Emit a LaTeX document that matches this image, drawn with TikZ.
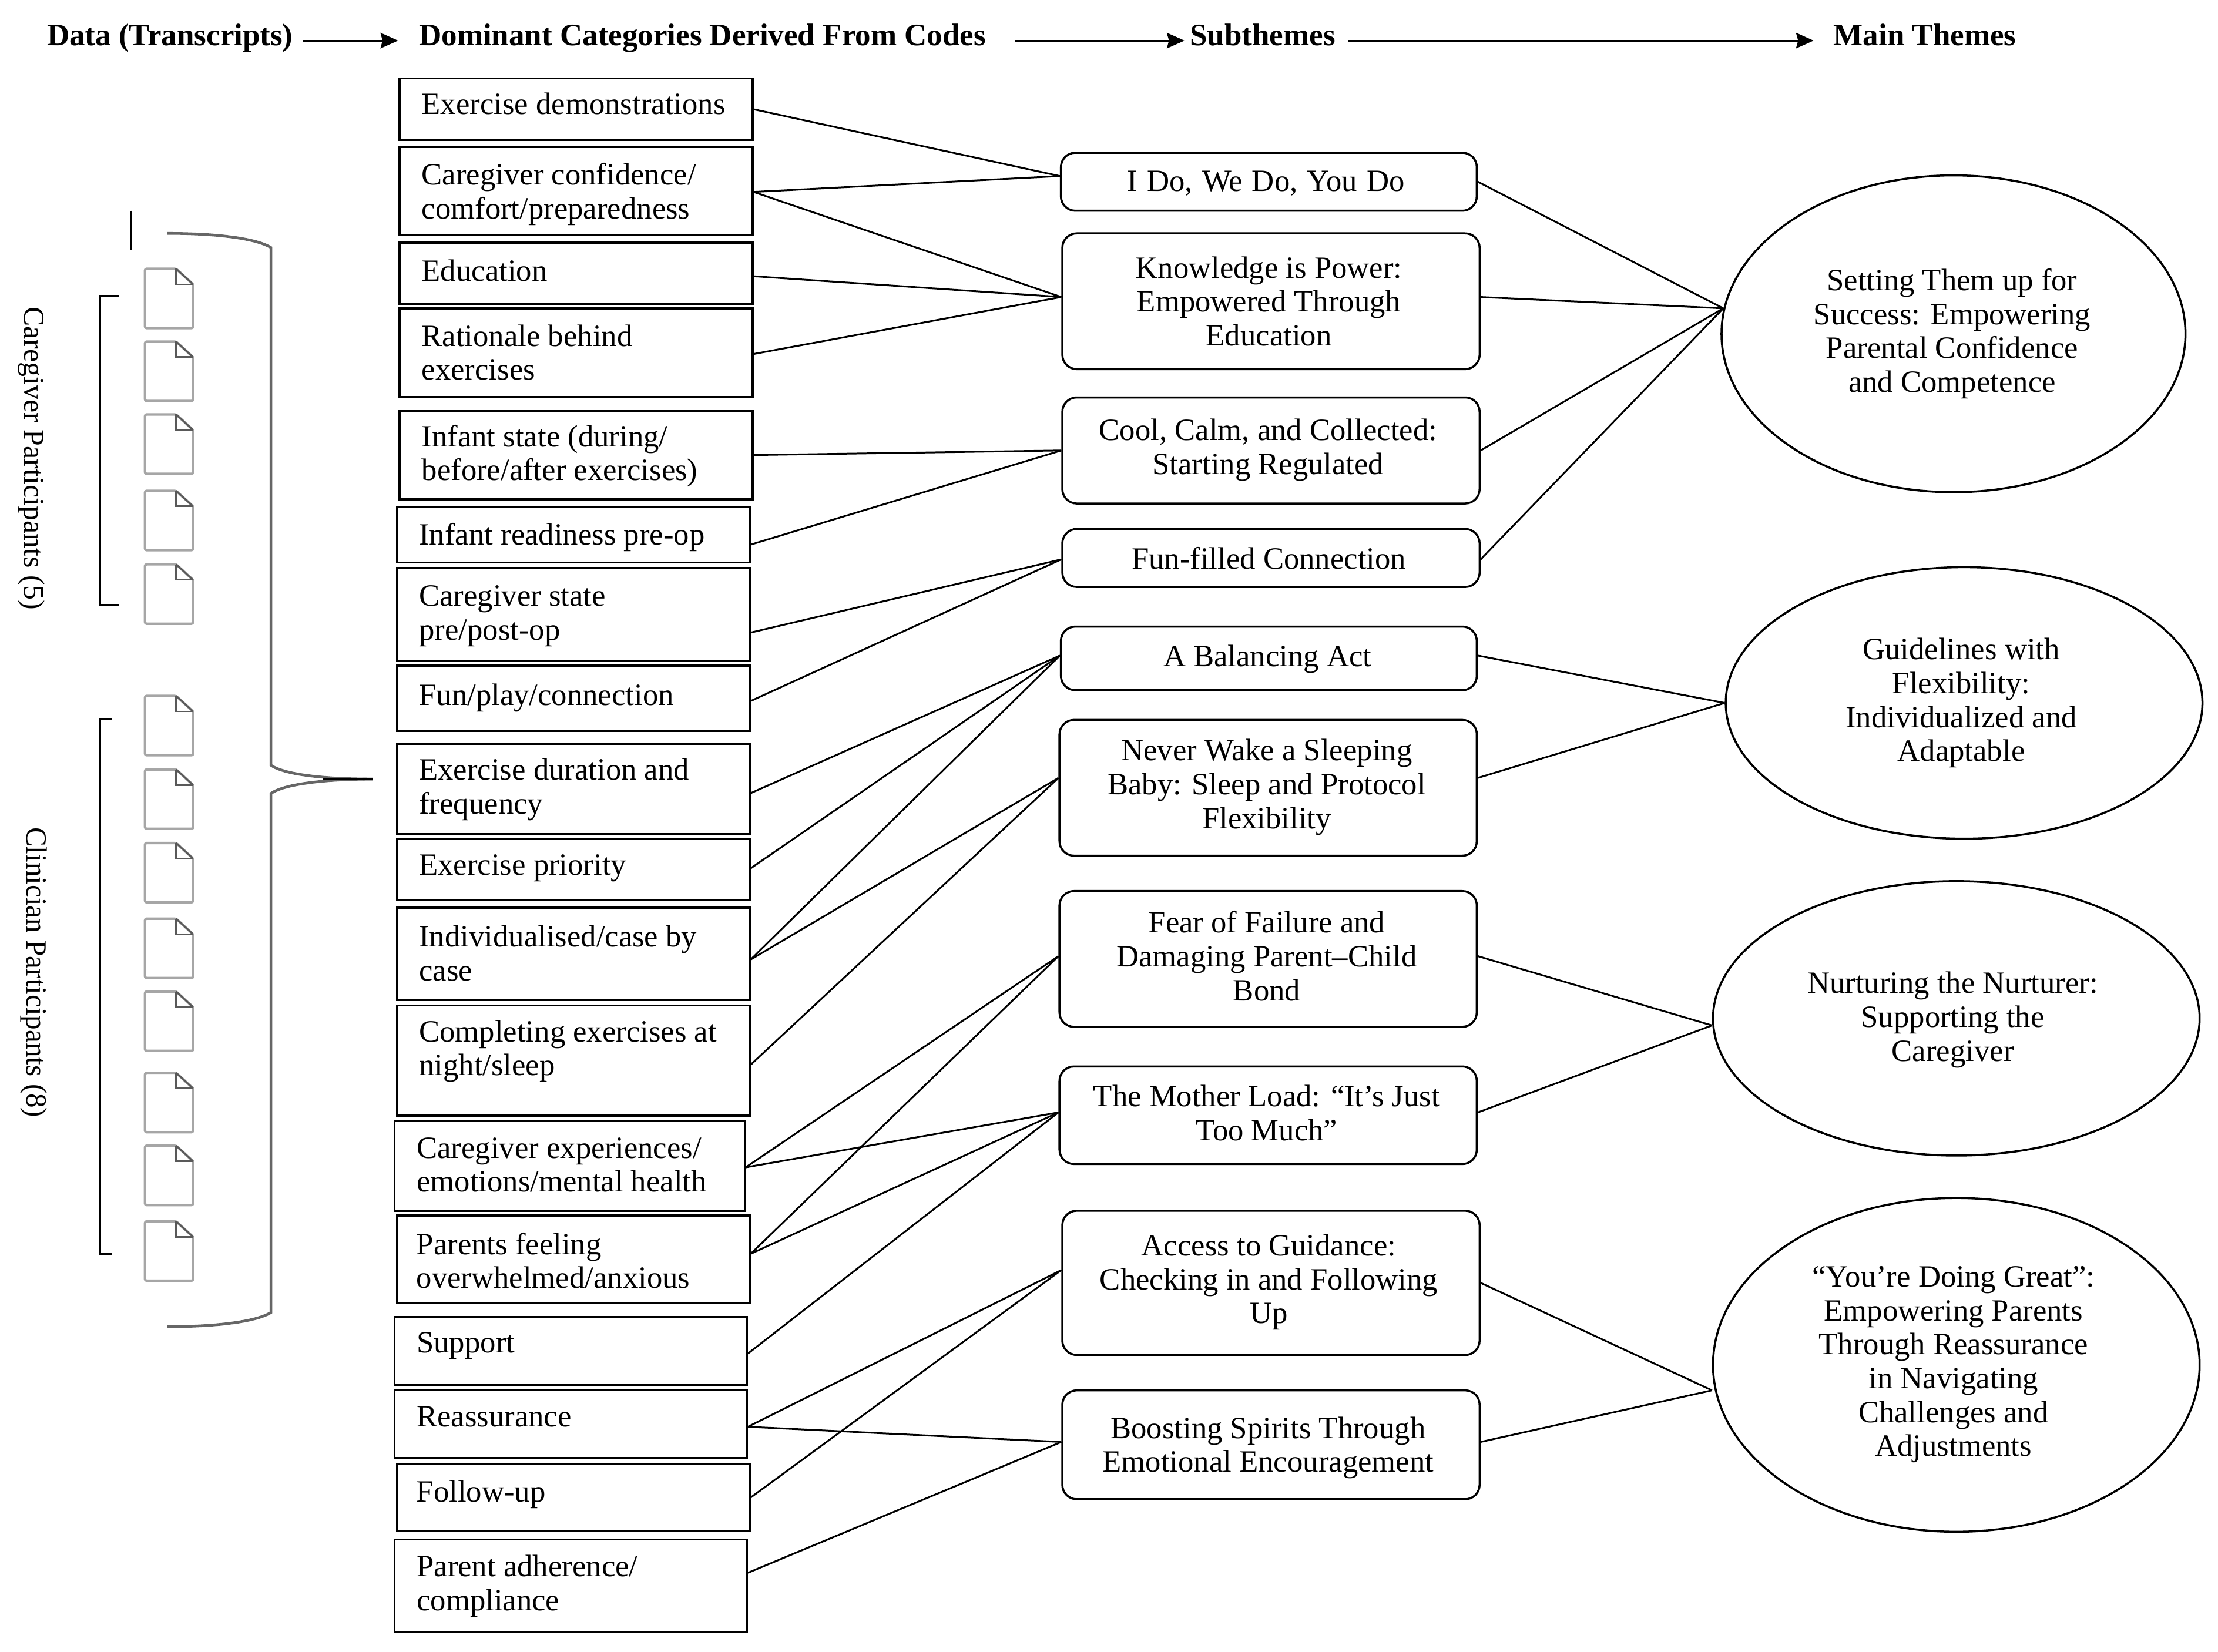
\documentclass[tikz,border=0pt]{standalone}
\usepackage{fontspec}
\setmainfont{Liberation Serif}
\usetikzlibrary{shapes.geometric,arrows.meta,calc}
\newcommand\catbox[7]{%
  \pgfmathsetlengthmacro\bw{(#4-#2)*0.024075cm}%
  \pgfmathsetlengthmacro\bh{(#5-#3)*0.024075cm}%
  \pgfmathsetlengthmacro\bt{(#6+0.8-#3)*0.024075cm-11pt}%
  \node[catnode,minimum width=\bw,minimum height=\bh] (#1) at ({(#2+#4)/2},{(#3+#5)/2})
    {\parbox[c][\bh][t]{\bw}{\vspace*{\bt}\leftskip=10.7pt\rightskip=0pt plus 1fil\baselineskip=16.4pt\rule{0pt}{11pt}#7}};}
% text offset inside a centred node: dx and dy in picture units (dy downwards)
\newcommand\adj[3]{\kern#1\dimexpr1.37pt\relax\raisebox{0pt}[\dimexpr\height+#2\dimexpr0.685pt\relax][\dimexpr\depth-#2\dimexpr0.685pt\relax]{\begin{tabular}{@{}c@{}}#3\end{tabular}}}
\newcommand\subbox[8]{%
  \node[subnode,minimum width={(#4-#2)*0.024075cm},minimum height={(#5-#3)*0.024075cm}] (#1) at ({(#2+#4)/2},{(#3+#5)/2}) {\adj{#6}{#7}{#8}};}
\newcommand\ellbox[8]{%
  \node[ellnode,minimum width={(#4-#2)*0.024075cm},minimum height={(#5-#3)*0.024075cm}] (#1) at ({(#2+#4)/2},{(#3+#5)/2}) {\adj{#6}{#7}{#8}};}
\newcommand\cn[4]{\draw[conn] ($(#1.east)+(0,#2)$) -- ($(#3.west)+(0,#4)$);}
\newcommand\cne[5]{\draw[conn] ($(#1.east)+(0,#2)$) -- ($(#3.west)+(#4,#5)$);}
\newcommand\docicon[2]{%
  \draw[docedge] (#1,#2+1) -- (#1+22,#2+1) -- (#1+34,#2+12) -- (#1+34,#2+43) -- (#1,#2+43) -- cycle;
  \draw[docfold] (#1+22,#2+1) -- (#1+22,#2+12) -- (#1+34,#2+12);
  \draw[docfold] (#1+22,#2+1) -- (#1+34,#2+12);}
\tikzset{
  x=0.024075cm,y=-0.024075cm,
  txt/.style={font=\fontsize{15}{16.4}\selectfont,text=black},
  catnode/.style={draw=black,line width=1pt,inner sep=0pt,font=\fontsize{15}{16.4}\selectfont},
  subnode/.style={txt,draw=black,line width=1pt,rounded corners=7pt,inner sep=0pt},
  ellnode/.style={txt,ellipse,draw=black,line width=1pt,inner sep=0pt},
  headnode/.style={font=\fontsize{15.08}{16.4}\selectfont\bfseries,inner sep=0pt,anchor=base west,text height=8pt,text depth=3.5pt},
  conn/.style={line width=0.85pt,black},
  headarrow/.style={line width=0.85pt,-{Stealth[length=8.5pt,width=7.5pt,inset=1pt]}},
  docedge/.style={draw=black!35,line width=1.2pt,line join=round,rounded corners=0.8pt},
  docfold/.style={draw=black!65,line width=0.8pt},
  bracketline/.style={draw=black,line width=0.9pt},
  braceline/.style={draw=black!60,line width=1.3pt},
  bracetip/.style={draw=black,line width=0.9pt},
  sidelabel/.style={font=\fontsize{14.2}{16}\selectfont,inner sep=0pt,rotate=-90},
}
\begin{document}
\begin{tikzpicture}
\useasboundingbox (0,0) rectangle (1568,1167.6);
% headers
\node[headnode] (h1) at (33,32) {Data (Transcripts)};
\node[headnode] (h2) at (296,32) {Dominant Categories Derived From Codes};
\node[headnode] (h3) at (841,32) {Subthemes};
\node[headnode] (h4) at (1296,32) {Main Themes};
\draw[headarrow,shorten <=4.5pt,shorten >=10pt] (h1.east) -- (h2.west);
\draw[headarrow,shorten <=14pt,shorten >=2.5pt] (h2.east) -- (h3.west);
\draw[headarrow,shorten <=6pt,shorten >=9.5pt] (h3.east) -- (h4.west);
% categories
\catbox{c1}{282.5}{55.5}{532}{99}{80}{Exercise demonstrations}
\catbox{c2}{282.5}{104}{532}{166.4}{130}{Caregiver confidence/\\comfort/preparedness}
\catbox{c3}{282.5}{171.6}{532}{215}{198}{Education}
\catbox{c4}{282.5}{218}{532}{280.6}{244}{Rationale behind\\exercises}
\catbox{c5}{282.5}{290.5}{532}{353}{315}{Infant state (during/\\before/after exercises)}
\catbox{c6}{280.7}{358.4}{530}{397.7}{384.6}{Infant readiness pre-op}
\catbox{c7}{280.7}{401.5}{530}{467}{427.7}{Caregiver state\\pre/post-op}
\catbox{c8}{280.7}{470.5}{530}{516.7}{497.7}{Fun/play/connection}
\catbox{c9}{280.7}{525.8}{530}{589.7}{550.7}{Exercise duration and\\frequency}
\catbox{c10}{280.7}{593.4}{530}{636.4}{617.8}{Exercise priority}
\catbox{c11}{280.7}{641.8}{530}{707}{668.6}{Individualised/case by\\case}
\catbox{c12}{280.7}{710.8}{530}{788.7}{735.7}{Completing exercises at\\night/sleep}
\catbox{c13}{279}{792.4}{526.4}{856.3}{818}{Caregiver experiences/\\emotions/mental health}
\catbox{c14}{280.7}{859.4}{530}{921.5}{886}{\leftskip=9.4pt Parents feeling\\overwhelmed/anxious}
\catbox{c15}{279}{931}{528}{979}{955.5}{Support}
\catbox{c16}{279}{982.7}{528}{1030.8}{1007.7}{Reassurance}
\catbox{c17}{280.7}{1035}{530}{1082.5}{1061}{\leftskip=9.4pt Follow-up}
\catbox{c18}{279}{1088.4}{528}{1153.6}{1114}{Parent adherence/\\compliance}
% subthemes
\subbox{s1}{750}{108}{1044}{149}{-2}{2}{{\spaceskip=4.55pt I Do, We Do, You Do}}
\subbox{s2}{751}{165}{1046}{261}{-1.5}{2.7}{Knowledge is Power:\\Empowered Through\\Education}
\subbox{s3}{751}{281}{1046}{356}{-2}{0}{Cool, Calm, and Collected:\\Starting Regulated}
\subbox{s4}{751}{374}{1046}{415}{-1.5}{3}{Fun-filled Connection}
\subbox{s5}{750}{443}{1044}{488}{-1}{1}{A Balancing Act}
\subbox{s6}{749}{509}{1044}{605}{-1}{0}{Never Wake a Sleeping\\Baby: Sleep and Protocol\\Flexibility}
\subbox{s7}{749}{630}{1044}{726}{-1}{0.7}{Fear of Failure and\\Damaging Parent–Child\\Bond}
\subbox{s8}{749}{754}{1044}{823}{-1}{1}{The Mother Load: “It’s Just\\Too Much”}
\subbox{s9}{751}{856}{1046}{958}{-1.5}{0}{Access to Guidance:\\Checking in and Following\\Up}
\subbox{s10}{751}{983}{1046}{1060}{-2}{2.5}{Boosting Spirits Through\\Emotional Encouragement}
% main themes
\ellbox{e1}{1217}{124}{1545}{348}{-1}{0.5}{Setting Them up for\\Success: Empowering\\Parental Confidence\\and Competence}
\ellbox{e2}{1220}{401}{1557}{593}{-2}{0.5}{Guidelines with\\Flexibility:\\Individualized and\\Adaptable}
\ellbox{e3}{1211}{623}{1555}{817}{-2.5}{1.5}{Nurturing the Nurturer:\\Supporting the\\Caregiver}
\ellbox{e4}{1211}{847}{1555}{1083}{-2}{0}{“You’re Doing Great”:\\Empowering Parents\\Through Reassurance\\in Navigating\\Challenges and\\Adjustments}
% connectors categories to subthemes
\cn{c1}{0}{s1}{-4}
\cn{c2}{0.5}{s1}{-4}
\cn{c2}{0.5}{s2}{-3}
\cn{c3}{2}{s2}{-3}
\cn{c4}{1}{s2}{-3}
\cn{c5}{0}{s3}{0}
\cn{c6}{7}{s3}{0}
\cn{c7}{13}{s4}{1}
\cn{c8}{2}{s4}{1}
\cn{c9}{3}{s5}{-2}
\cn{c10}{-1}{s5}{-2}
\cn{c11}{4}{s5}{-2}
\cn{c11}{4}{s6}{-7}
\cn{c12}{3}{s6}{-7}
\cn{c13}{1}{s7}{-2}
\cn{c13}{1}{s8}{-2}
\cn{c14}{-4}{s7}{-2}
\cn{c14}{-4}{s8}{-2}
\cn{c15}{2}{s8}{-2}
\cn{c16}{2}{s9}{-9}
\cn{c16}{2}{s10}{-2}
\cn{c17}{0}{s9}{-9}
\cn{c18}{-9}{s10}{-2}
% connectors subthemes to themes
\cne{s1}{0}{e1}{2}{-18}
\cne{s2}{-3}{e1}{2}{-18}
\cne{s3}{0}{e1}{2}{-18}
\cne{s4}{1}{e1}{2}{-18}
\cne{s5}{-2}{e2}{0}{0}
\cne{s6}{-7}{e2}{0}{0}
\cne{s7}{-2}{e3}{0}{5}
\cne{s8}{-2}{e3}{0}{5}
\cne{s9}{0}{e4}{0}{18}
\cne{s10}{-2}{e4}{0}{18}
% left side
\draw[bracketline] (92.5,149) -- (92.5,177);
\draw[braceline] (118,165) .. controls (150,165) and (180,168) .. (191.5,175) -- (191.5,541) .. controls (200,547) and (225,550.8) .. (263.5,550.8);
\draw[braceline] (263.5,550.8) .. controls (225,551) and (200,555) .. (191.5,561) -- (191.5,928) .. controls (180,935) and (150,938) .. (118,938);
\draw[bracetip] (228,550.8) -- (263.5,550.8);
\draw[bracketline] (84,209) -- (70.6,209) -- (70.6,427.5) -- (84,427.5);
\draw[bracketline] (79,508.6) -- (70.6,508.6) -- (70.6,886.6) -- (79,886.6);
\foreach \yy in {189,240.5,292,346,398,491,543,595,648.5,700,757.5,809,862.5}{\docicon{102.5}{\yy}}
\node[sidelabel] (l1) at (22,324) {Caregiver Participants (5)};
\node[sidelabel,xscale=0.985] (l2) at (24,687.5) {Clinician Participants (8)};
\end{tikzpicture}
\end{document}
